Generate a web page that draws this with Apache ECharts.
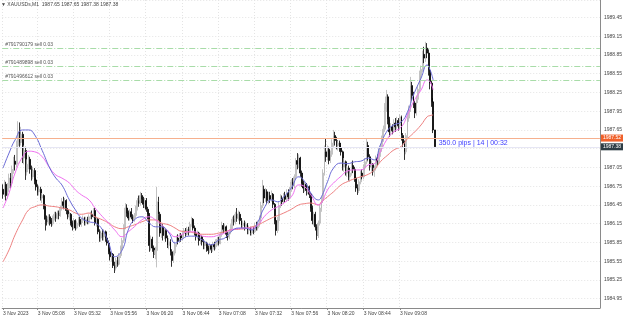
<!DOCTYPE html>
<html>
<head>
<meta charset="utf-8">
<script src="https://cdn.jsdelivr.net/npm/echarts@6/dist/echarts.min.js"></script>
<style>
  html, body { margin: 0; padding: 0; background: #fff; }
  #main { width: 625px; height: 318px; }
</style>
</head>
<body>
<div id="main"></div>
<script>
// XAUUSDs M1 bars (open, close, low, high)
const opens = [
  1986.70,1986.62,1986.78,1986.60,1986.72,1986.88,1986.80,1987.02,1987.15,1987.10,
  1987.40,1987.62,1987.45,1987.58,1987.20,1987.32,1986.98,1987.10,1987.18,1987.02,
  1986.90,1987.00,1986.85,1986.74,1986.66,1986.70,1986.56,1986.60,1986.42,1986.22,
  1986.18,1986.26,1986.20,1986.15,1986.24,1986.30,1986.24,1986.32,1986.28,1986.40,
  1986.50,1986.44,1986.52,1986.36,1986.26,1986.30,1986.16,1986.10,1986.20,1986.08,
  1986.16,1986.22,1986.14,1986.20,1986.24,1986.16,1986.22,1986.18,1986.26,1986.30,
  1986.26,1986.36,1986.16,1986.22,1986.02,1985.92,1986.00,1985.94,1986.02,1985.92,
  1985.84,1985.70,1985.62,1985.66,1985.48,1985.44,1985.56,1985.50,1985.64,1985.76,
  1985.88,1986.10,1986.40,1986.32,1986.24,1986.34,1986.26,1986.20,1986.28,1986.40,
  1986.52,1986.48,1986.60,1986.54,1986.46,1986.52,1986.38,1986.30,1985.80,1985.90,
  1985.76,1985.66,1985.72,1986.50,1986.30,1986.00,1986.10,1985.96,1986.04,1985.92,
  1985.80,1985.86,1985.70,1985.56,1985.68,1985.82,1985.92,1985.88,1985.96,1985.92,
  1986.00,1986.04,1985.98,1986.06,1986.02,1986.14,1986.22,1986.08,1986.00,1985.94,
  1986.00,1985.88,1985.94,1985.86,1985.80,1985.84,1985.76,1985.72,1985.80,1985.74,
  1985.82,1985.78,1985.86,1985.90,1985.84,1985.98,1986.12,1986.06,1986.10,1985.98,
  1985.94,1986.02,1986.10,1986.22,1986.18,1986.30,1986.24,1986.30,1986.20,1986.12,
  1986.16,1986.10,1986.14,1986.04,1986.08,1986.00,1986.06,1986.02,1986.12,1986.08,
  1986.16,1986.24,1986.44,1986.70,1986.56,1986.66,1986.52,1986.60,1986.54,1986.62,
  1986.46,1986.20,1986.04,1986.20,1986.44,1986.56,1986.50,1986.60,1986.54,1986.64,
  1986.58,1986.70,1986.82,1986.76,1986.90,1987.16,1987.10,1987.20,1986.96,1986.80,
  1986.72,1986.78,1986.68,1986.74,1986.62,1986.40,1986.20,1986.30,1986.10,1985.96,
  1986.16,1986.40,1986.52,1986.96,1987.30,1987.22,1987.34,1987.16,1987.26,1987.44,
  1987.56,1987.48,1987.40,1987.44,1987.36,1987.30,1987.06,1987.14,1986.96,1987.04,
  1986.90,1986.96,1987.08,1987.02,1986.88,1986.72,1986.68,1986.82,1986.96,1986.90,
  1987.04,1987.14,1987.40,1987.22,1987.06,1987.10,1986.98,1987.04,1987.20,1987.14,
  1987.28,1987.36,1987.50,1987.66,1988.00,1988.18,1987.82,1987.62,1987.70,1987.64,
  1987.76,1987.70,1987.80,1987.72,1987.86,1987.56,1987.44,1987.30,1987.56,1987.84,
  1987.98,1988.36,1988.20,1988.08,1987.92,1988.14,1988.30,1988.52,1988.62,1988.86,
  1988.80,1988.96,1988.88,1988.60,1988.40,1988.10,1987.65
];
const closes = [
  1986.62,1986.78,1986.60,1986.72,1986.88,1986.80,1987.02,1987.15,1987.10,1987.40,
  1987.62,1987.45,1987.58,1987.20,1987.32,1986.98,1987.10,1987.18,1987.02,1986.90,
  1987.00,1986.85,1986.74,1986.66,1986.70,1986.56,1986.60,1986.42,1986.22,1986.18,
  1986.26,1986.20,1986.15,1986.24,1986.30,1986.24,1986.32,1986.28,1986.40,1986.50,
  1986.44,1986.52,1986.36,1986.26,1986.30,1986.16,1986.10,1986.20,1986.08,1986.16,
  1986.22,1986.14,1986.20,1986.24,1986.16,1986.22,1986.18,1986.26,1986.30,1986.26,
  1986.36,1986.16,1986.22,1986.02,1985.92,1986.00,1985.94,1986.02,1985.92,1985.84,
  1985.70,1985.62,1985.66,1985.48,1985.44,1985.56,1985.50,1985.64,1985.76,1985.88,
  1986.10,1986.40,1986.32,1986.24,1986.34,1986.26,1986.20,1986.28,1986.40,1986.52,
  1986.48,1986.60,1986.54,1986.46,1986.52,1986.38,1986.30,1985.80,1985.90,1985.76,
  1985.66,1985.72,1986.50,1986.30,1986.00,1986.10,1985.96,1986.04,1985.92,1985.80,
  1985.86,1985.70,1985.56,1985.68,1985.82,1985.92,1985.88,1985.96,1985.92,1986.00,
  1986.04,1985.98,1986.06,1986.02,1986.14,1986.22,1986.08,1986.00,1985.94,1986.00,
  1985.88,1985.94,1985.86,1985.80,1985.84,1985.76,1985.72,1985.80,1985.74,1985.82,
  1985.78,1985.86,1985.90,1985.84,1985.98,1986.12,1986.06,1986.10,1985.98,1985.94,
  1986.02,1986.10,1986.22,1986.18,1986.30,1986.24,1986.30,1986.20,1986.12,1986.16,
  1986.10,1986.14,1986.04,1986.08,1986.00,1986.06,1986.02,1986.12,1986.08,1986.16,
  1986.24,1986.44,1986.70,1986.56,1986.66,1986.52,1986.60,1986.54,1986.62,1986.46,
  1986.20,1986.04,1986.20,1986.44,1986.56,1986.50,1986.60,1986.54,1986.64,1986.58,
  1986.70,1986.82,1986.76,1986.90,1987.16,1987.10,1987.20,1986.96,1986.80,1986.72,
  1986.78,1986.68,1986.74,1986.62,1986.40,1986.20,1986.30,1986.10,1985.96,1986.16,
  1986.40,1986.52,1986.96,1987.30,1987.22,1987.34,1987.16,1987.26,1987.44,1987.56,
  1987.48,1987.40,1987.44,1987.36,1987.30,1987.06,1987.14,1986.96,1987.04,1986.90,
  1986.96,1987.08,1987.02,1986.88,1986.72,1986.68,1986.82,1986.96,1986.90,1987.04,
  1987.14,1987.40,1987.22,1987.06,1987.10,1986.98,1987.04,1987.20,1987.14,1987.28,
  1987.36,1987.50,1987.66,1988.00,1988.18,1987.82,1987.62,1987.70,1987.64,1987.76,
  1987.70,1987.80,1987.72,1987.86,1987.56,1987.44,1987.30,1987.56,1987.84,1987.98,
  1988.36,1988.20,1988.08,1987.92,1988.14,1988.30,1988.52,1988.62,1988.86,1988.80,
  1988.96,1988.88,1988.60,1988.40,1988.10,1987.65,1987.38
];
const lows = [
  1986.55,1986.58,1986.52,1986.55,1986.66,1986.72,1986.76,1986.95,1987.00,1987.05,
  1987.35,1987.38,1987.40,1987.12,1987.10,1986.85,1986.92,1987.02,1986.95,1986.84,
  1986.86,1986.78,1986.68,1986.60,1986.60,1986.52,1986.48,1986.38,1986.04,1986.12,
  1986.14,1986.12,1986.10,1986.12,1986.20,1986.18,1986.22,1986.22,1986.26,1986.36,
  1986.38,1986.40,1986.30,1986.22,1986.20,1986.12,1986.04,1986.06,1986.04,1986.06,
  1986.12,1986.10,1986.10,1986.16,1986.12,1986.12,1986.14,1986.14,1986.22,1986.22,
  1986.24,1986.12,1986.10,1985.98,1985.86,1985.86,1985.88,1985.88,1985.86,1985.80,
  1985.66,1985.56,1985.54,1985.44,1985.36,1985.40,1985.46,1985.48,1985.60,1985.72,
  1985.84,1986.06,1986.26,1986.20,1986.20,1986.22,1986.16,1986.18,1986.24,1986.36,
  1986.42,1986.44,1986.48,1986.40,1986.40,1986.34,1986.22,1985.70,1985.72,1985.70,
  1985.60,1985.58,1985.45,1986.20,1985.94,1985.92,1985.88,1985.90,1985.86,1985.76,
  1985.74,1985.64,1985.46,1985.52,1985.64,1985.78,1985.82,1985.84,1985.86,1985.88,
  1985.94,1985.94,1985.96,1985.96,1986.00,1986.10,1986.04,1985.96,1985.88,1985.90,
  1985.80,1985.82,1985.80,1985.74,1985.74,1985.70,1985.66,1985.68,1985.68,1985.70,
  1985.72,1985.74,1985.80,1985.80,1985.82,1985.94,1986.00,1986.02,1985.92,1985.88,
  1985.90,1985.98,1986.06,1986.12,1986.14,1986.18,1986.20,1986.14,1986.08,1986.06,
  1986.04,1986.06,1985.98,1985.98,1985.96,1985.96,1985.98,1986.00,1986.04,1986.04,
  1986.10,1986.20,1986.40,1986.48,1986.50,1986.46,1986.46,1986.48,1986.50,1986.40,
  1986.14,1985.96,1986.00,1986.16,1986.40,1986.44,1986.46,1986.48,1986.50,1986.52,
  1986.54,1986.66,1986.70,1986.72,1986.86,1987.02,1987.04,1986.90,1986.74,1986.64,
  1986.66,1986.60,1986.62,1986.56,1986.34,1986.14,1986.12,1986.04,1985.89,1985.92,
  1986.12,1986.34,1986.48,1986.92,1987.14,1987.16,1987.10,1987.12,1987.22,1987.38,
  1987.40,1987.34,1987.32,1987.30,1987.24,1987.00,1986.98,1986.92,1986.90,1986.84,
  1986.82,1986.92,1986.96,1986.82,1986.66,1986.61,1986.64,1986.78,1986.86,1986.86,
  1987.00,1987.10,1987.16,1987.00,1986.98,1986.92,1986.90,1987.00,1987.08,1987.10,
  1987.22,1987.30,1987.46,1987.62,1987.94,1987.74,1987.54,1987.56,1987.58,1987.60,
  1987.62,1987.66,1987.64,1987.66,1987.48,1987.38,1987.17,1987.26,1987.52,1987.78,
  1987.94,1988.12,1988.00,1987.84,1987.88,1988.08,1988.26,1988.44,1988.58,1988.72,
  1988.74,1988.80,1988.52,1988.30,1988.02,1987.60,1987.38
];
const highs = [
  1986.78,1986.85,1986.82,1986.80,1986.95,1986.96,1987.08,1987.22,1987.25,1987.48,
  1987.79,1987.77,1987.70,1987.62,1987.40,1987.38,1987.18,1987.25,1987.22,1987.08,
  1987.06,1987.04,1986.88,1986.78,1986.76,1986.74,1986.64,1986.62,1986.46,1986.28,
  1986.30,1986.30,1986.24,1986.28,1986.34,1986.34,1986.36,1986.36,1986.44,1986.56,
  1986.58,1986.56,1986.54,1986.40,1986.34,1986.32,1986.20,1986.24,1986.22,1986.20,
  1986.26,1986.26,1986.24,1986.28,1986.26,1986.26,1986.26,1986.30,1986.34,1986.36,
  1986.40,1986.40,1986.26,1986.24,1986.06,1986.04,1986.06,1986.06,1986.04,1985.96,
  1985.88,1985.74,1985.70,1985.68,1985.54,1985.60,1985.62,1985.68,1985.80,1985.92,
  1986.14,1986.48,1986.46,1986.36,1986.38,1986.40,1986.30,1986.32,1986.44,1986.56,
  1986.60,1986.66,1986.64,1986.58,1986.56,1986.56,1986.42,1986.32,1985.96,1985.94,
  1985.80,1985.78,1986.74,1986.58,1986.34,1986.16,1986.14,1986.08,1986.06,1985.96,
  1985.92,1985.90,1985.74,1985.72,1985.86,1985.96,1985.98,1986.00,1986.00,1986.04,
  1986.08,1986.08,1986.10,1986.10,1986.18,1986.26,1986.24,1986.12,1986.04,1986.04,
  1986.02,1985.98,1985.96,1985.90,1985.88,1985.86,1985.80,1985.84,1985.82,1985.86,
  1985.86,1985.90,1985.94,1985.94,1986.02,1986.18,1986.16,1986.14,1986.12,1986.02,
  1986.06,1986.14,1986.26,1986.28,1986.34,1986.40,1986.36,1986.34,1986.24,1986.20,
  1986.20,1986.18,1986.16,1986.12,1986.10,1986.10,1986.10,1986.16,1986.18,1986.20,
  1986.28,1986.50,1986.85,1986.76,1986.72,1986.70,1986.66,1986.66,1986.68,1986.64,
  1986.48,1986.24,1986.26,1986.50,1986.62,1986.60,1986.64,1986.66,1986.70,1986.70,
  1986.74,1986.86,1986.88,1986.94,1987.20,1987.28,1987.26,1987.22,1987.00,1986.84,
  1986.82,1986.80,1986.78,1986.76,1986.64,1986.44,1986.34,1986.34,1986.14,1986.20,
  1986.46,1986.58,1987.02,1987.40,1987.52,1987.40,1987.38,1987.32,1987.50,1987.65,
  1987.62,1987.54,1987.48,1987.48,1987.40,1987.32,1987.20,1987.16,1987.08,1987.08,
  1987.00,1987.14,1987.16,1987.06,1986.90,1986.78,1986.86,1987.00,1987.02,1987.10,
  1987.20,1987.52,1987.46,1987.26,1987.16,1987.12,1987.08,1987.24,1987.26,1987.34,
  1987.42,1987.56,1987.72,1988.08,1988.29,1988.22,1987.86,1987.76,1987.74,1987.82,
  1987.84,1987.86,1987.84,1987.90,1987.88,1987.60,1987.48,1987.60,1987.92,1988.04,
  1988.50,1988.42,1988.26,1988.12,1988.20,1988.36,1988.60,1988.68,1988.92,1988.98,
  1989.06,1989.04,1988.94,1988.66,1988.44,1988.16,1987.65
];

// moving averages at these bar indices
const maIdx = [0,4,8,13,17,21,26,31,35,39,44,48,52,57,61,66,70,74,79,83,87,92,97,101,105,
  110,114,118,123,127,132,138,143,147,151,156,160,165,169,173,178,182,186,191,196,200,
  204,209,211,215,219,224,228,233,237,242,246,250,255,259,264,268,272,277,281,283,285];
const maFast = [1987.04,1987.28,1987.49,1987.65,1987.65,1987.57,1987.32,1987.04,1986.88,1986.77,
  1986.53,1986.37,1986.24,1986.18,1986.16,1986.05,1985.84,1985.62,1985.73,1986.05,1986.21,
  1986.26,1986.16,1986.10,1986.10,1986.00,1985.84,1985.89,1985.95,1985.95,1985.89,1985.81,
  1985.89,1985.92,1986.02,1986.08,1986.08,1986.05,1986.18,1986.40,1986.53,1986.50,1986.58,
  1986.72,1986.90,1986.82,1986.64,1986.53,1986.58,1986.82,1987.04,1987.12,1987.11,1987.14,
  1987.15,1987.20,1987.17,1987.41,1987.65,1987.73,1987.78,1987.94,1988.21,1988.48,1988.69,
  1988.61,1988.45];
const maMid = [1986.40,1986.64,1986.96,1987.22,1987.31,1987.30,1987.22,1987.04,1986.93,1986.88,
  1986.80,1986.69,1986.61,1986.53,1986.40,1986.26,1986.16,1986.05,1985.94,1986.02,1986.10,
  1986.21,1986.26,1986.21,1986.13,1986.02,1985.94,1985.97,1986.02,1986.02,1985.95,1985.94,
  1985.97,1986.00,1986.05,1986.07,1986.08,1986.08,1986.13,1986.26,1986.37,1986.42,1986.48,
  1986.58,1986.77,1986.74,1986.61,1986.45,1986.48,1986.69,1986.80,1986.91,1986.99,1987.01,
  1987.01,1987.09,1987.11,1987.30,1987.52,1987.62,1987.70,1987.89,1988.10,1988.29,1988.45,
  1988.42,1988.29];
const maSlow = [1985.54,1985.73,1985.97,1986.21,1986.37,1986.42,1986.45,1986.43,1986.42,1986.40,
  1986.37,1986.32,1986.30,1986.32,1986.26,1986.21,1986.16,1986.10,1986.07,1986.10,1986.13,
  1986.18,1986.21,1986.21,1986.16,1986.13,1986.08,1986.03,1986.02,1986.00,1985.98,1985.98,
  1986.00,1986.02,1986.05,1986.06,1986.07,1986.10,1986.13,1986.18,1986.24,1986.28,1986.32,
  1986.38,1986.45,1986.47,1986.48,1986.45,1986.50,1986.58,1986.66,1986.77,1986.82,1986.87,
  1986.90,1986.94,1987.01,1987.14,1987.25,1987.33,1987.39,1987.51,1987.60,1987.73,1987.86,
  1987.88,1987.89];

// axis labels
const slotCount = 396;
const xTickIdx = [0, 23, 47, 71, 95, 119, 143, 167, 191, 215, 239, 263];
const xTickText = ['3 Nov 2023', '3 Nov 05:08', '3 Nov 05:32', '3 Nov 05:56', '3 Nov 06:20',
  '3 Nov 06:44', '3 Nov 07:08', '3 Nov 07:32', '3 Nov 07:56', '3 Nov 08:20', '3 Nov 08:44', '3 Nov 09:08'];
const yTickText = ['1989.45', '1989.15', '1988.85', '1988.55', '1988.25', '1987.95', '1987.65',
  '1987.35', '1987.05', '1986.75', '1986.45', '1986.15', '1985.85', '1985.55', '1985.25', '1984.95'];

// order lines and price levels
const orderPrices = [1988.96, 1988.67, 1988.45];
const orderTexts = ['#791790179 sell 0.03', '#791489898 sell 0.03', '#791496612 sell 0.03'];
const askLevel = 1987.52;
const bidLevel = 1987.38;
const timerText = '350.0 pips | 14 | 00:32';

const chart = echarts.init(document.getElementById('main'));
const font = 'Liberation Sans, Arial, sans-serif';
const slots = Array.from({ length: slotCount }, (_, i) => i);
const candles = opens.map((o, i) => [o, closes[i], lows[i], highs[i]]);
const pairs = (vals) => maIdx.map((ix, i) => [ix, vals[i]]);
const showX = (i) => xTickIdx.indexOf(i) >= 0;

chart.setOption({
  animation: false,
  backgroundColor: '#fff',
  title: {
    text: '\u25BC XAUUSDs,M1  1987.65 1987.65 1987.38 1987.38',
    left: 1, top: 2, padding: 0,
    textStyle: { fontSize: 5, fontWeight: 'normal', color: '#444', fontFamily: font }
  },
  grid: { left: 0, right: 25, top: 0, bottom: 10 },
  xAxis: {
    type: 'category',
    data: slots,
    boundaryGap: true,
    axisLine: { lineStyle: { color: '#8a8a8a', width: 1 } },
    axisTick: { show: true, interval: showX, alignWithLabel: true, length: 2, lineStyle: { color: '#8a8a8a' } },
    axisLabel: {
      interval: showX, align: 'left', margin: 3, fontSize: 5, color: '#444', fontFamily: font,
      formatter: (v, i) => xTickText[xTickIdx.indexOf(i)] || ''
    },
    splitLine: { show: true, interval: showX, lineStyle: { color: '#e4e4e4', type: [1, 2] } }
  },
  yAxis: {
    type: 'value',
    position: 'right',
    min: 1984.80,
    max: 1989.73,
    interval: 0.15,
    scale: true,
    axisLine: { show: true, lineStyle: { color: '#8a8a8a', width: 1 } },
    axisTick: { show: false },
    axisLabel: {
      margin: 4, fontSize: 5, color: '#444', fontFamily: font,
      showMinLabel: false, showMaxLabel: false,
      formatter: (v) => (yTickText.indexOf(v.toFixed(2)) >= 0 ? v.toFixed(2) : '')
    },
    splitLine: { show: true, lineStyle: { color: ['rgba(0,0,0,0)', '#e4e4e4'], type: [1, 2] } }
  },
  series: [
    {
      type: 'candlestick',
      data: candles,
      barWidth: 1.4,
      itemStyle: {
        color: '#ffffff', color0: '#000000',
        borderColor: '#b4b4b4', borderColor0: '#000000', borderWidth: 0.8
      },
      markLine: {
        silent: true,
        symbol: 'none',
        lineStyle: { color: '#a8dca8', width: 1.2, type: [6, 2, 1, 2], opacity: 1 },
        label: { show: true, position: 'insideStartTop', distance: [3, 1], fontSize: 5, color: '#555', fontFamily: font },
        data: [
          ...orderPrices.map((p, i) => ({ yAxis: p, label: { formatter: orderTexts[i] } })),
          {
            yAxis: askLevel,
            lineStyle: { color: '#f6b08e', width: 1.2, type: 'solid' },
            label: {
              position: 'end', distance: 1, formatter: askLevel.toFixed(2),
              backgroundColor: '#f0612b', color: '#fff', padding: [1, 2, 1, 2]
            }
          },
          {
            yAxis: bidLevel,
            lineStyle: { color: '#e6e6f4', width: 1, type: 'solid' },
            label: {
              position: 'end', distance: 1, formatter: bidLevel.toFixed(2),
              backgroundColor: '#2e3d45', color: '#fff', padding: [1, 2, 1, 2]
            }
          }
        ]
      },
      markPoint: {
        silent: true,
        symbol: 'circle',
        symbolSize: 0,
        data: [{ coord: [288, 1987.44] }],
        label: {
          show: true, position: 'right', distance: 1, formatter: timerText,
          color: '#3d3dff', fontSize: 7, fontFamily: font
        }
      }
    },
    {
      type: 'line', data: pairs(maSlow), smooth: true, showSymbol: false, silent: true,
      lineStyle: { color: '#ee8080', width: 1 }
    },
    {
      type: 'line', data: pairs(maMid), smooth: true, showSymbol: false, silent: true,
      lineStyle: { color: '#f070f0', width: 1 }
    },
    {
      type: 'line', data: pairs(maFast), smooth: true, showSymbol: false, silent: true,
      lineStyle: { color: '#6a6ad6', width: 1 }
    }
  ]
});
</script>
</body>
</html>
